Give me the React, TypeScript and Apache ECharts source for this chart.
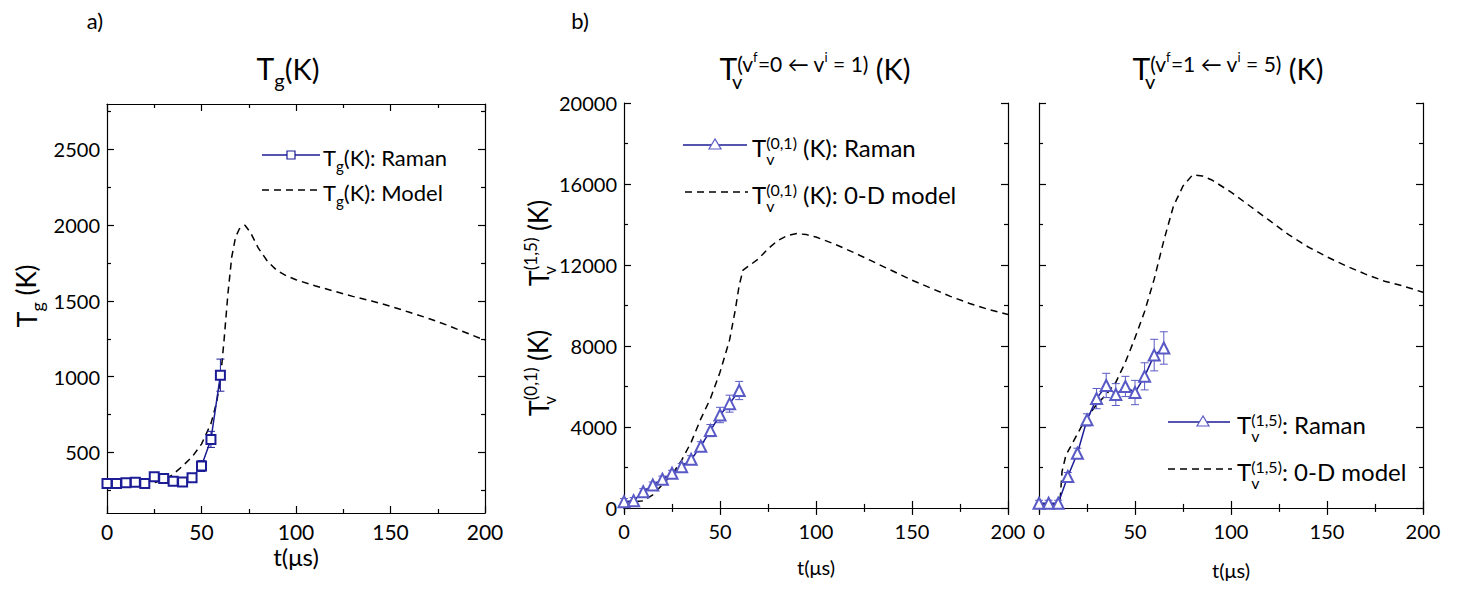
import React, { useEffect, useRef } from 'react';
import * as echarts from 'echarts';

const F = 'Lato, "Open Sans", "DejaVu Sans", sans-serif';

// ---------- Panel a: gas temperature ----------
const aRamanT = [0, 5, 10, 15, 20, 25, 30, 35, 40, 45, 50, 55, 60];
const aRamanV = [295, 295, 300, 303, 295, 339, 328, 310, 305, 332, 410, 586, 1010];
const aRamanErr = [15, 15, 15, 15, 15, 15, 15, 15, 15, 15, 36, 53, 106];
const aModelT = [0, 10, 20, 25, 30, 35, 40, 45, 50, 55, 58, 60, 62, 64, 66, 68, 70, 73, 76, 80, 85, 90, 95, 100, 110, 120, 130, 140, 150, 160, 170, 180, 190, 200];
const aModelV = [270, 282, 292, 300, 318, 355, 410, 470, 555, 690, 830, 980, 1250, 1550, 1790, 1920, 1975, 2000, 1950, 1850, 1760, 1700, 1665, 1640, 1600, 1565, 1530, 1500, 1465, 1425, 1385, 1340, 1290, 1240];

// ---------- Panel b: Tv(0,1) ----------
const bRamanT = [0, 5, 10, 15, 20, 25, 30, 35, 40, 45, 50, 55, 60];
const bRamanV = [310, 360, 800, 1130, 1420, 1710, 2040, 2400, 3050, 3820, 4590, 5150, 5800];
const bRamanErr = [150, 150, 150, 150, 150, 150, 150, 180, 220, 300, 380, 420, 450];
const bModelT = [0, 5, 10, 15, 20, 25, 30, 35, 40, 45, 50, 55, 58, 60, 62, 65, 70, 75, 80, 85, 90, 95, 100, 110, 120, 130, 140, 150, 160, 170, 180, 190, 200];
const bModelV = [300, 300, 350, 650, 1150, 1650, 2350, 3250, 4400, 5400, 6700, 8300, 9800, 11000, 11750, 11950, 12300, 12800, 13200, 13450, 13550, 13500, 13380, 13020, 12600, 12150, 11700, 11250, 10850, 10450, 10100, 9800, 9550];

// ---------- Panel c: Tv(1,5) ----------
const cRamanT = [0, 5, 10, 15, 20, 25, 30, 35, 40, 45, 50, 55, 60, 65];
const cRamanV = [230, 230, 230, 1550, 2700, 4350, 5400, 6050, 5600, 6000, 5700, 6500, 7550, 7900];
const cRamanErr = [150, 150, 150, 200, 250, 300, 500, 600, 540, 500, 600, 670, 780, 800];
const cModelT = [0, 5, 10, 11, 12, 14, 18, 22, 26, 30, 35, 40, 45, 50, 55, 60, 65, 70, 75, 80, 85, 90, 100, 110, 120, 130, 140, 150, 160, 170, 180, 190, 200];
const cModelV = [200, 200, 200, 400, 1800, 2600, 3300, 4000, 4600, 5100, 5600, 6200, 7200, 8400, 9700, 11300, 13200, 14900, 15900, 16450, 16400, 16200, 15600, 14900, 14200, 13500, 12900, 12400, 11950, 11550, 11200, 10950, 10650];

// ---------- Axis ticks ----------
const xTicks = { min: 0, max: 200, interval: 50 };
const aYMajor = [500, 1000, 1500, 2000, 2500];
const aYMinor = [250, 750, 1250, 1750, 2250, 2750];
const bYMajor = [0, 4000, 8000, 12000, 16000, 20000];
const bYMinor = [2000, 6000, 10000, 14000, 18000];

const NAVY = '#1c1c96';
const TRI = '#5a5ac6';

const zip = (a: number[], b: number[]) => a.map((t, i) => [t, b[i]]);
const zip3 = (a: number[], b: number[], c: number[]) => a.map((t, i) => [t, b[i], c[i]]);

const black = { color: '#000', width: 1.2 };
const plainNum = (v: number) => String(v);

function xAxes(gi: number, fs: number) {
  const base = {
    type: 'value', gridIndex: gi, min: xTicks.min, max: xTicks.max, interval: xTicks.interval,
    axisLine: { show: true, lineStyle: black },
    axisTick: { show: true, inside: true, length: 7, lineStyle: black },
    minorTick: { show: true, splitNumber: 2, length: 4, lineStyle: black },
    splitLine: { show: false }, minorSplitLine: { show: false },
  };
  return [
    { ...base, position: 'bottom', axisLabel: { show: true, color: '#000', fontSize: fs, fontFamily: F, margin: 8, formatter: plainNum } },
    { ...base, position: 'top', axisLabel: { show: false } },
  ];
}

function yAxes(gi: number, min: number, max: number, major: number[], minor: number[], showLabel: boolean) {
  const base = { type: 'value', gridIndex: gi, min, max, splitLine: { show: false } };
  const tickMaj = { show: true, inside: true, length: 7, lineStyle: black, customValues: major };
  const tickMin = { show: true, inside: true, length: 4, lineStyle: black, customValues: minor };
  return [
    { ...base, position: 'left', axisLine: { show: true, lineStyle: black }, axisTick: tickMaj,
      axisLabel: { show: showLabel, customValues: major, color: '#000', fontSize: 20, fontFamily: F, margin: 7, formatter: plainNum } },
    { ...base, position: 'left', axisLine: { show: false }, axisTick: tickMin, axisLabel: { show: false } },
    { ...base, position: 'right', axisLine: { show: true, lineStyle: black }, axisTick: tickMaj, axisLabel: { show: false } },
    { ...base, position: 'right', axisLine: { show: false }, axisTick: tickMin, axisLabel: { show: false } },
  ];
}

function errRender(color: string) {
  return (_p: any, api: any) => {
    const x = api.value(0);
    const v = api.value(1);
    const e = api.value(2);
    const lo = api.coord([x, v - e]);
    const hi = api.coord([x, v + e]);
    const w = 4;
    const st = { stroke: color, lineWidth: 1 };
    return {
      type: 'group',
      children: [
        { type: 'line', shape: { x1: lo[0], y1: lo[1], x2: hi[0], y2: hi[1] }, style: st },
        { type: 'line', shape: { x1: lo[0] - w, y1: lo[1], x2: lo[0] + w, y2: lo[1] }, style: st },
        { type: 'line', shape: { x1: hi[0] - w, y1: hi[1], x2: hi[0] + w, y2: hi[1] }, style: st },
      ],
    };
  };
}

function modelSeries(xi: number, yi: number, t: number[], v: number[]) {
  return {
    type: 'line', xAxisIndex: xi, yAxisIndex: yi, data: zip(t, v), showSymbol: false, symbol: 'none',
    lineStyle: { color: '#000', width: 1.5, type: [7, 5] }, z: 2,
  };
}
function ramanSeries(xi: number, yi: number, t: number[], v: number[], symbol: string, size: number, symColor: string) {
  return {
    type: 'line', xAxisIndex: xi, yAxisIndex: yi, data: zip(t, v), symbol, symbolSize: size, showSymbol: true,
    lineStyle: { color: NAVY, width: 1.5 }, itemStyle: { color: symColor, borderWidth: 1.2 }, z: 4,
  };
}
function errSeries(xi: number, yi: number, t: number[], v: number[], e: number[], color: string) {
  return { type: 'custom', xAxisIndex: xi, yAxisIndex: yi, data: zip3(t, v, e), renderItem: errRender(color), z: 3 };
}

// rich text styles
const legendRichA = {
  t: { fontSize: 22, fontFamily: F, verticalAlign: 'middle', lineHeight: 34 },
  n: { fontSize: 22, fontFamily: F, verticalAlign: 'middle', lineHeight: 34 },
  sub: { fontSize: 15, fontFamily: F, verticalAlign: 'bottom', height: 16 },
};
const legendRichB = {
  t: { fontSize: 24, fontFamily: F, verticalAlign: 'middle', lineHeight: 38 },
  n: { fontSize: 24, fontFamily: F, verticalAlign: 'middle', lineHeight: 38 },
  subz: { fontSize: 16, fontFamily: F, verticalAlign: 'bottom', height: 15, width: 0 },
  sup: { fontSize: 16, fontFamily: F, verticalAlign: 'top', height: 28 },
};
const titleRich = {
  t: { fontSize: 30, fontFamily: F, verticalAlign: 'middle', lineHeight: 44 },
  n: { fontSize: 29, fontFamily: F, verticalAlign: 'middle', lineHeight: 44 },
  sub: { fontSize: 20, fontFamily: F, verticalAlign: 'bottom', height: 20 },
  subz: { fontSize: 20, fontFamily: F, verticalAlign: 'bottom', height: 18, width: 0 },
  sup: { fontSize: 21, fontFamily: F, verticalAlign: 'top', height: 34 },
  ss: { fontSize: 13, fontFamily: F, verticalAlign: 'top', height: 22 },
};
const ylabRich = {
  t: { fontSize: 27, fontFamily: F, verticalAlign: 'middle', lineHeight: 40 },
  n: { fontSize: 26, fontFamily: F, verticalAlign: 'middle', lineHeight: 40 },
  sub: { fontSize: 18, fontFamily: F, verticalAlign: 'bottom', height: 18 },
  subz: { fontSize: 17, fontFamily: F, verticalAlign: 'bottom', height: 18, width: 0 },
  sup: { fontSize: 17, fontFamily: F, verticalAlign: 'top', height: 24 },
};

function txt(x: number, y: number, text: string, rich: any, align = 'left', rotation = 0, fontSize = 20) {
  return {
    type: 'text', x, y, rotation, z: 10,
    style: { text, rich, align, verticalAlign: 'middle', fill: '#000', fontSize, fontFamily: F },
  };
}
function plain(x: number, y: number, text: string, fontSize: number) {
  return {
    type: 'text', x, y, z: 10,
    style: { text, align: 'center', verticalAlign: 'middle', fill: '#000', fontSize, fontFamily: F },
  };
}
function solidLeg(x1: number, x2: number, y: number) {
  return { type: 'line', shape: { x1, y1: y, x2, y2: y }, style: { stroke: NAVY, lineWidth: 1.5 }, z: 10 };
}
function dashLeg(x1: number, x2: number, y: number) {
  return { type: 'line', shape: { x1, y1: y, x2, y2: y }, style: { stroke: '#000', lineWidth: 1.5, lineDash: [7, 5] }, z: 10 };
}
function triLeg(x: number, y: number) {
  return {
    type: 'polygon', shape: { points: [[x, y - 6], [x - 6, y + 4], [x + 6, y + 4]] },
    style: { fill: '#fff', stroke: TRI, lineWidth: 1.2 }, z: 11,
  };
}
function rectLeg(x: number, y: number) {
  return { type: 'rect', shape: { x: x - 4, y: y - 4, width: 8, height: 8 }, style: { fill: '#fff', stroke: NAVY, lineWidth: 1.2 }, z: 11 };
}

const option: any = {
  animation: false,
  backgroundColor: '#fff',
  grid: [
    { left: 107, top: 104, width: 378, height: 409 },
    { left: 624, top: 103, width: 384, height: 410 },
    { left: 1039, top: 103, width: 384, height: 410 },
  ],
  xAxis: [...xAxes(0, 21), ...xAxes(1, 20), ...xAxes(2, 20)],
  yAxis: [
    ...yAxes(0, 100, 2800, aYMajor, aYMinor, true),
    ...yAxes(1, -250, 20000, bYMajor, bYMinor, true),
    ...yAxes(2, -250, 20000, bYMajor, bYMinor, false),
  ],
  series: [
    modelSeries(0, 0, aModelT, aModelV),
    errSeries(0, 0, aRamanT, aRamanV, aRamanErr, NAVY),
    ramanSeries(0, 0, aRamanT, aRamanV, 'emptyRect', 9, NAVY),
    modelSeries(2, 4, bModelT, bModelV),
    errSeries(2, 4, bRamanT, bRamanV, bRamanErr, TRI),
    ramanSeries(2, 4, bRamanT, bRamanV, 'emptyTriangle', 11, TRI),
    modelSeries(4, 8, cModelT, cModelV),
    errSeries(4, 8, cRamanT, cRamanV, cRamanErr, TRI),
    ramanSeries(4, 8, cRamanT, cRamanV, 'emptyTriangle', 11, TRI),
  ],
  graphic: {
    elements: [
      plain(95, 20, 'a)', 22),
      plain(580, 20, 'b)', 22),
      // titles
      txt(288, 68, '{t|T}{sub|g}{n|(K)}', titleRich, 'center'),
      txt(815, 68, '{t|T}{subz|v}{sup|(v}{ss|f}{sup|=0 ← v}{ss|i}{sup| = 1)}{n| (K)}', titleRich, 'center'),
      txt(1228, 68, '{t|T}{subz|v}{sup|(v}{ss|f}{sup|=1 ← v}{ss|i}{sup| = 5)}{n| (K)}', titleRich, 'center'),
      // y-axis names
      txt(26, 296, '{t|T}{sub|g}{n| (K)}', ylabRich, 'center', Math.PI / 2),
      txt(538, 243, '{t|T}{subz|v}{sup|(1,5)}{n| (K)}', ylabRich, 'center', Math.PI / 2),
      txt(538, 373, '{t|T}{subz|v}{sup|(0,1)}{n| (K)}', ylabRich, 'center', Math.PI / 2),
      // x-axis names
      plain(296, 556, 't(μs)', 24),
      plain(816, 567, 't(μs)', 20),
      plain(1231, 570, 't(μs)', 20),
      // legend a
      solidLeg(262, 320, 155), rectLeg(291, 155),
      txt(323, 157, '{t|T}{sub|g}{n|(K): Raman}', legendRichA),
      dashLeg(262, 318, 190),
      txt(323, 192, '{t|T}{sub|g}{n|(K): Model}', legendRichA),
      // legend b
      solidLeg(683, 747, 145), triLeg(715, 145),
      txt(752, 147, '{t|T}{subz|v}{sup|(0,1)}{n| (K): Raman}', legendRichB),
      dashLeg(685, 748, 192),
      txt(752, 194, '{t|T}{subz|v}{sup|(0,1)}{n| (K): 0-D model}', legendRichB),
      // legend c
      solidLeg(1168, 1230, 422), triLeg(1203, 422),
      txt(1237, 424, '{t|T}{subz|v}{sup|(1,5)}{n|: Raman}', legendRichB),
      dashLeg(1168, 1232, 469),
      txt(1237, 471, '{t|T}{subz|v}{sup|(1,5)}{n|: 0-D model}', legendRichB),
    ],
  },
};

export default function App() {
  const ref = useRef<HTMLDivElement>(null);
  useEffect(() => {
    const chart = echarts.init(ref.current as HTMLDivElement, null, { renderer: 'svg' });
    chart.setOption(option);
    return () => chart.dispose();
  }, []);
  return (
    <div
      ref={ref}
      style={{ position: 'fixed', left: 0, top: 0, width: 1465, height: 593, background: '#fff' }}
    />
  );
}
